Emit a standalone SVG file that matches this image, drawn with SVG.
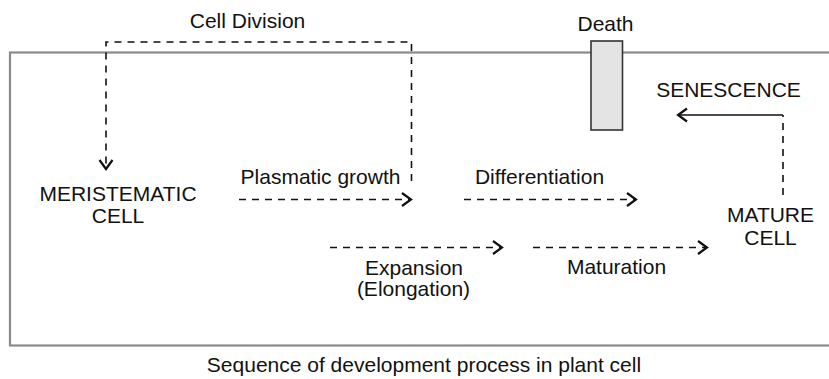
<svg xmlns="http://www.w3.org/2000/svg" width="829" height="379" viewBox="0 0 829 379">
  <style>
    text { font-family: "Liberation Sans", Arial, Helvetica, sans-serif; font-size: 21px; fill: #111; }
    .c { text-anchor: middle; }
    .frame { fill: none; stroke: #8a8a8a; stroke-width: 2.2; }
    .dash { fill: none; stroke: #111; stroke-width: 1.6; stroke-dasharray: 7 6; }
    .solid { fill: none; stroke: #111; stroke-width: 1.6; }
    .death { fill: #e4e4e4; stroke: #333; stroke-width: 1.6; }
  </style>
  <defs>
    <marker id="arr" markerUnits="userSpaceOnUse" markerWidth="14" markerHeight="16" refX="11" refY="8" orient="auto">
      <path d="M2,1.5 L11,8 L2,14.5" fill="none" stroke="#111" stroke-width="2.2" stroke-dasharray="none"/>
    </marker>
  </defs>
  <rect width="829" height="379" fill="#fff"/>

  <g id="frame">
    <rect class="frame" x="10" y="52.5" width="840" height="293"/>
  </g>

  <g id="caption">
    <text x="424" y="372" class="c">Sequence of development process in plant cell</text>
  </g>

  <g id="death">
    <rect class="death" x="591" y="41" width="31.5" height="89"/>
    <text x="605.5" y="30.5" class="c">Death</text>
  </g>

  <g id="meristematic-cell">
    <text x="118" y="201" class="c">MERISTEMATIC</text>
    <text x="118" y="223" class="c">CELL</text>
  </g>

  <g id="mature-cell">
    <text x="770.5" y="222" class="c">MATURE</text>
    <text x="770.5" y="245" class="c">CELL</text>
  </g>

  <g id="senescence">
    <text x="728.5" y="96.5" class="c">SENESCENCE</text>
  </g>

  <g id="connectors">
    <path class="dash" d="M411.5,181 V42 H106 V169" marker-end="url(#arr)"/>
    <path class="dash" d="M239,199.5 H411" marker-end="url(#arr)"/>
    <path class="dash" d="M464,199.5 H636" marker-end="url(#arr)"/>
    <path class="dash" d="M330,247.5 H502" marker-end="url(#arr)"/>
    <path class="dash" d="M533,247.5 H707" marker-end="url(#arr)"/>
    <path class="dash" d="M783,195 V115"/>
    <path class="solid" d="M783,115 H678" marker-end="url(#arr)"/>
  </g>

  <g id="labels">
    <text x="247.5" y="28" class="c">Cell Division</text>
    <text x="320.5" y="183.5" class="c">Plasmatic growth</text>
    <text x="539.5" y="183.5" class="c">Differentiation</text>
    <text x="414" y="275" class="c">Expansion</text>
    <text x="413.5" y="296" class="c">(Elongation)</text>
    <text x="616.5" y="274" class="c">Maturation</text>
  </g>
</svg>
